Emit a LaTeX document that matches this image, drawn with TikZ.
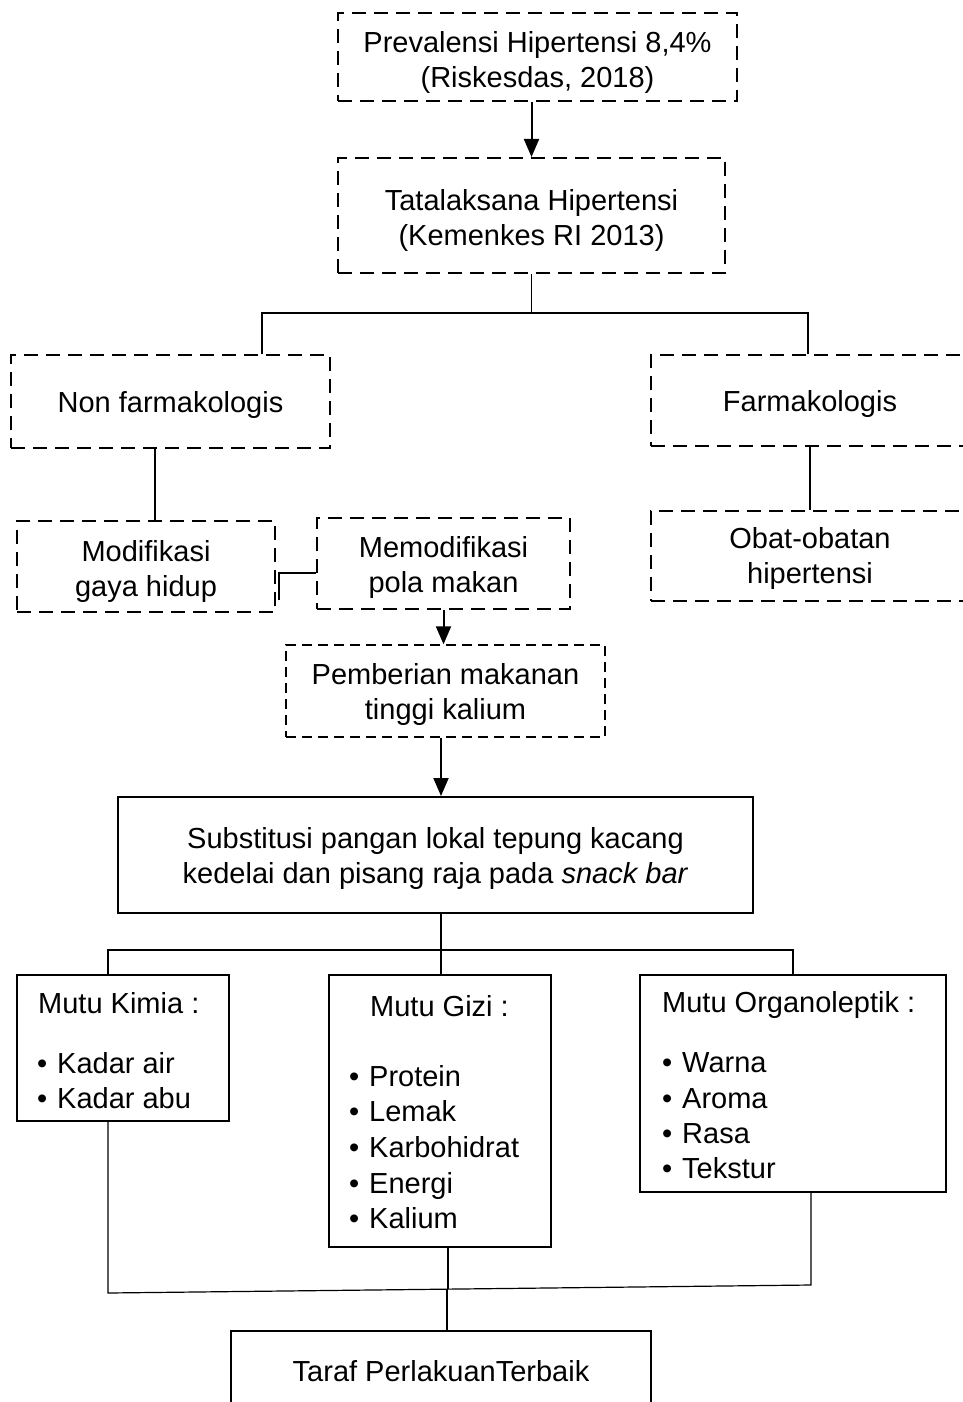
\documentclass[tikz,border=0pt]{standalone}
\usepackage{fontspec}
\setmainfont{Liberation Sans}
\usetikzlibrary{arrows.meta,calc}
\newcommand{\lift}[1]{\rule{0pt}{#1}}
\begin{document}
\begin{tikzpicture}[x=1pt,y=-1pt,
  every node/.style={font=\fontsize{29}{35}\selectfont},
  dbox/.style={draw, line width=2pt, dash pattern=on 14pt off 8pt, align=center, inner sep=0pt},
  fbox/.style={draw, line width=1.4pt, dash pattern=on 10pt off 6pt, align=center, inner sep=0pt},
  sbox/.style={draw, line width=2pt, align=center, inner sep=0pt},
  txt/.style={inner sep=0pt, anchor=base west},
  conn/.style={line width=1.2pt},
  arr/.style={line width=2pt, -{Triangle[width=15pt,length=18pt]}}
]
\useasboundingbox (0,0) rectangle (963,1402);
\clip (0,0) rectangle (963,1402);

% dashed boxes
\node[dbox, minimum width=399pt, minimum height=88pt] (prev) at (537.5,57) {\lift{33pt}Prevalensi Hipertensi 8,4\%\\(Riskesdas, 2018)};
\node[dbox, minimum width=387pt, minimum height=115pt] (tata) at (531.5,215.5) {\lift{32pt}Tatalaksana Hipertensi\\(Kemenkes RI 2013)};
\node[dbox, minimum width=319pt, minimum height=93pt, text height=29pt] (nonf) at (170.5,401.5) {Non farmakologis};
\node[dbox, minimum width=318pt, minimum height=91pt, text height=29pt] (farm) at (810,400.5) {Farmakologis};
\node[dbox, minimum width=258pt, minimum height=91pt] (mod) at (146,566.5) {\lift{31pt}Modifikasi\\gaya hidup};
\node[dbox, minimum width=253pt, minimum height=91pt] (memo) at (443.5,563.5) {\lift{30pt}Memodifikasi\\pola makan};
\node[dbox, minimum width=318pt, minimum height=90pt] (obat) at (810,556) {\lift{27pt}Obat-obatan\\hipertensi};
\node[fbox, minimum width=319pt, minimum height=92pt] (pem) at (445.5,691) {\lift{29pt}Pemberian makanan\\tinggi kalium};

% solid boxes
\node[sbox, minimum width=635pt, minimum height=116pt] (sub) at (435.5,855) {\lift{27pt}Substitusi pangan lokal tepung kacang\\kedelai dan pisang raja pada \textit{snack bar}};
\node[sbox, minimum width=212pt, minimum height=146pt] (kim) at (123,1048) {};
\node[sbox, minimum width=222pt, minimum height=272pt] (gizi) at (440,1111) {};
\node[sbox, minimum width=306pt, minimum height=217pt] (org) at (793,1083.5) {};
\node[sbox, minimum width=420pt, minimum height=80pt] (taraf) at (441,1371) {Taraf PerlakuanTerbaik};

% texts in Mutu boxes
\node[txt] (k0) at (38,1013) {Mutu Kimia :};
\node[txt] (k1) at (37,1073) {\makebox[20pt][l]{\textbullet}Kadar air};
\node[txt] (k2) at (37,1108) {\makebox[20pt][l]{\textbullet}Kadar abu};

\node[txt] (g0) at (370,1016) {Mutu Gizi :};
\node[txt] (g1) at (349,1086) {\makebox[20pt][l]{\textbullet}Protein};
\node[txt] (g2) at (349,1121) {\makebox[20pt][l]{\textbullet}Lemak};
\node[txt] (g3) at (349,1157) {\makebox[20pt][l]{\textbullet}Karbohidrat};
\node[txt] (g4) at (349,1193) {\makebox[20pt][l]{\textbullet}Energi};
\node[txt] (g5) at (349,1228) {\makebox[20pt][l]{\textbullet}Kalium};

\node[txt] (o0) at (662,1012) {Mutu Organoleptik :};
\node[txt] (o1) at (662,1072) {\makebox[20pt][l]{\textbullet}Warna};
\node[txt] (o2) at (662,1108) {\makebox[20pt][l]{\textbullet}Aroma};
\node[txt] (o3) at (662,1143) {\makebox[20pt][l]{\textbullet}Rasa};
\node[txt] (o4) at (662,1178) {\makebox[20pt][l]{\textbullet}Tekstur};

% helper coordinates
\coordinate (b1) at (262,313);
\coordinate (b2) at (808,313);
\coordinate (c155) at (155,0);
\coordinate (c441) at (441,0);
\coordinate (h1) at (108,950);
\coordinate (h2) at (793,950);
\coordinate (l1) at (108,1293);
\coordinate (l2) at (811,1285);
\coordinate (lg) at (448,0);
\coordinate (lm) at (447,1289);

% connectors
\draw[arr] (prev.south -| tata.south) -- (tata.north);
\draw[conn] (tata.south) -- (tata.south |- b1);
\draw[conn] (nonf.north -| b1) -- (b1) -- (b2) -- (farm.north -| b2);
\draw[conn] (nonf.south -| c155) -- (mod.north -| c155);
\draw[conn] (farm.south) -- (obat.north);
\draw[conn] ([xshift=3pt,yshift=-33.5pt]mod.east) -- ([xshift=3pt,yshift=-6.5pt]mod.east) -- ([yshift=-9.5pt]memo.west);
\draw[arr] (memo.south) -- (memo.south |- pem.north);
\draw[arr] (pem.south -| c441) -- (sub.north -| c441);
\draw[conn] (sub.south -| c441) -- (c441 |- h1);
\draw[conn] (kim.north -| h1) -- (h1) -- (h2) -- (org.north -| h2);
\draw[conn] (gizi.north -| c441) -- (c441 |- h1);
\draw[conn] (kim.south -| l1) -- (l1) -- (l2) -- (org.south -| l2);
\draw[conn] (gizi.south -| lg) -- (lg |- lm);
\draw[conn] (lm) -- (taraf.north -| lm);
\end{tikzpicture}
\end{document}
